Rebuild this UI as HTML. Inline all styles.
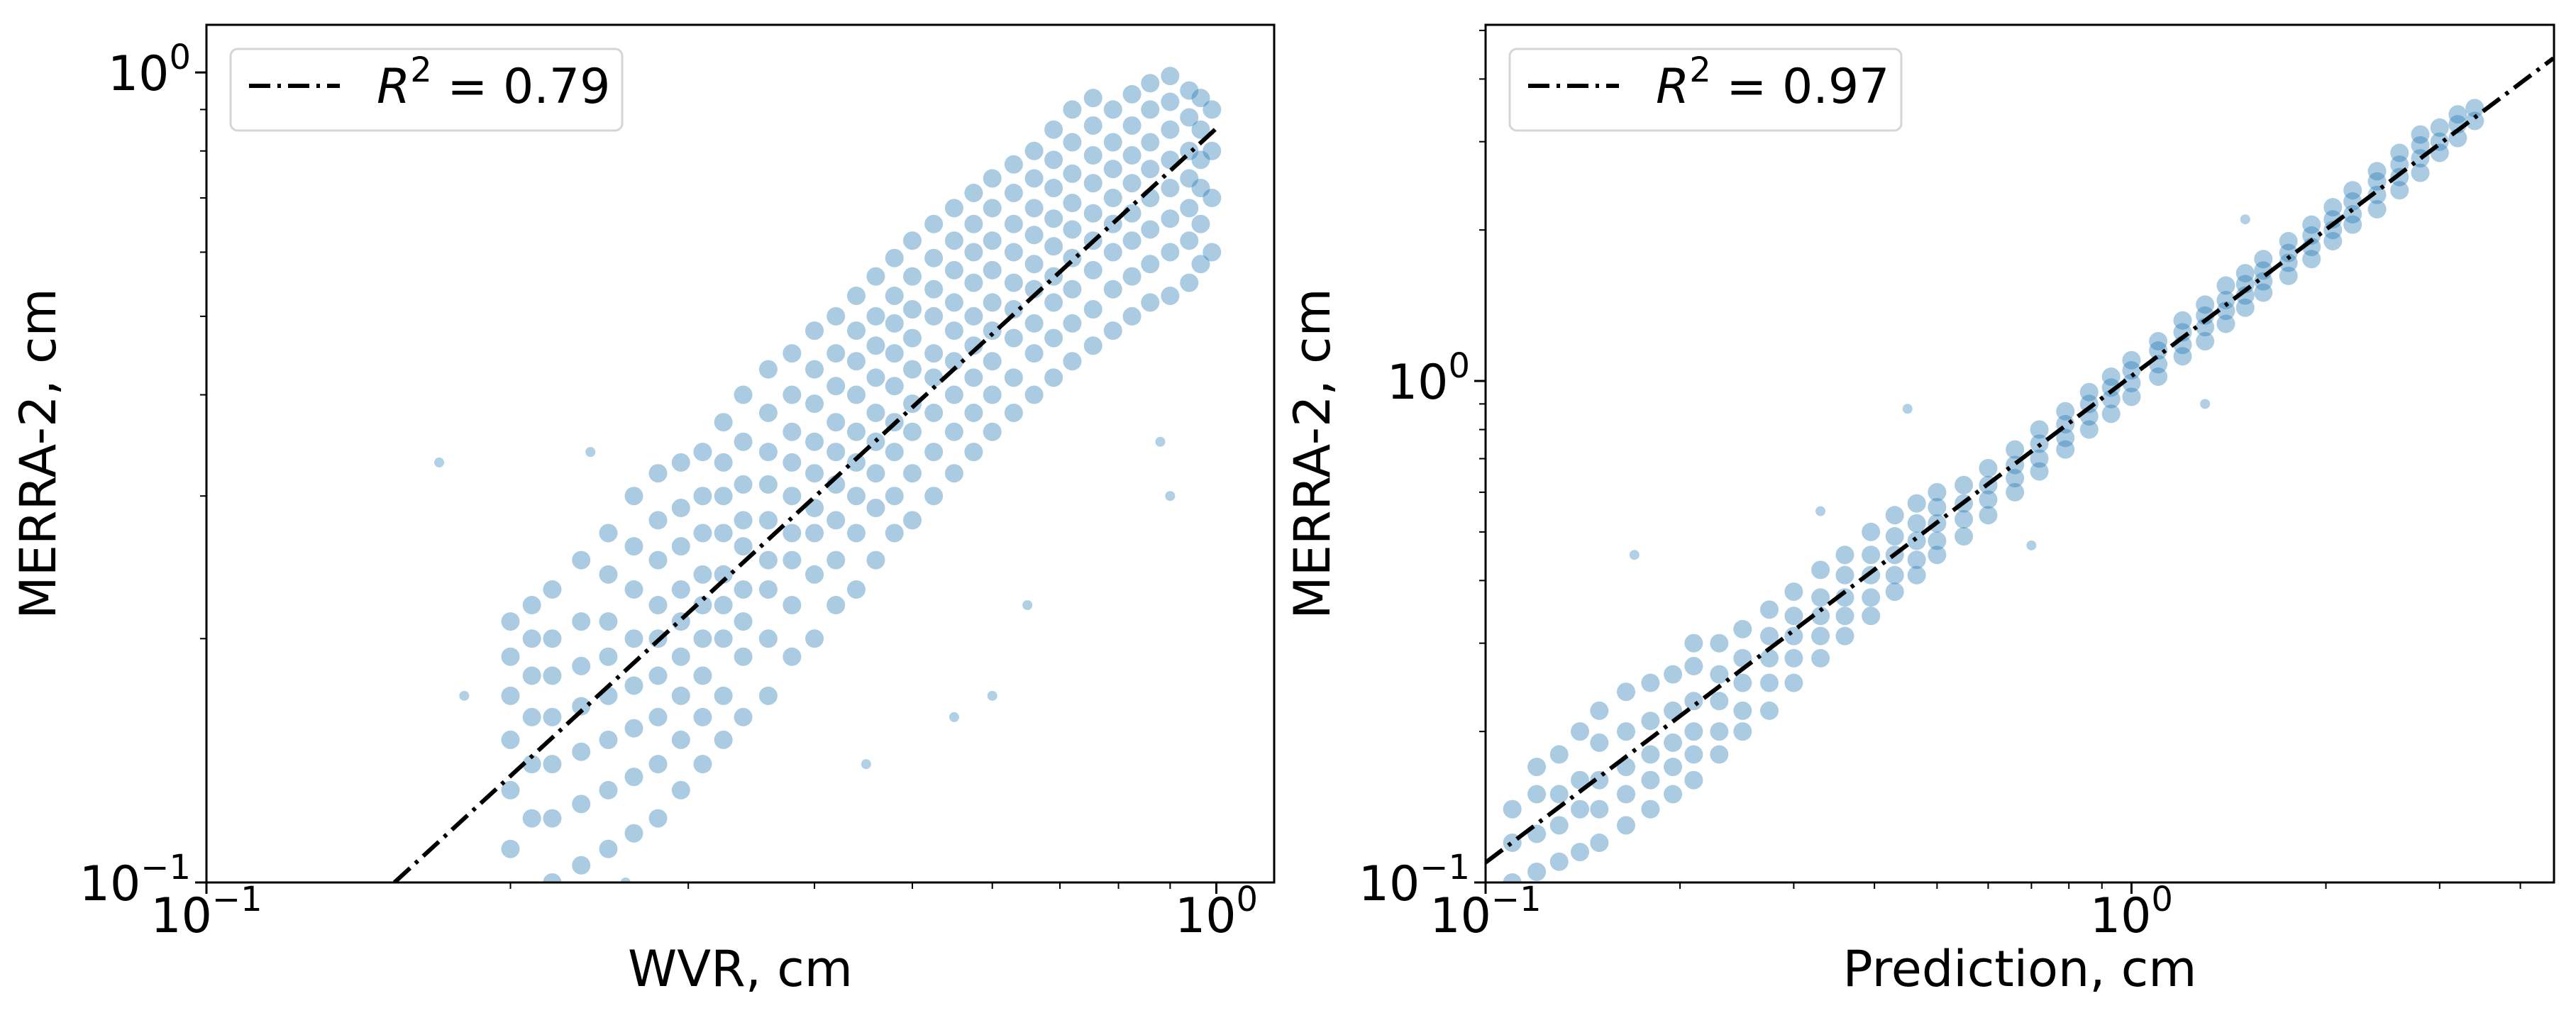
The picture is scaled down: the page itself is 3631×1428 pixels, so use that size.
<!DOCTYPE html>
<html><head><meta charset="utf-8">
<style>
html,body{margin:0;padding:0;background:#fff;}
svg{display:block;font-family:"DejaVu Sans","Liberation Sans",sans-serif;}
</style></head>
<body>
<svg id="fig" width="3631" height="1428" viewBox="0 0 3631 1428" xmlns="http://www.w3.org/2000/svg"></svg>
<script>
// ---- Left panel data (WVR vs MERRA-2), columns of points ----
const wvrCols = [0.2,0.22,0.25,0.28,0.31,0.34,0.38,0.42,0.46,0.5,0.55,0.6,0.66,0.72,0.79,0.86,0.94,0.99,
  0.21,0.235,0.265,0.295,0.325,0.36,0.40,0.44,0.48,0.525,0.575,0.63,0.69,0.755,0.825,0.9,0.965];
const merraLeftCols = [
 [0.11,0.13,0.15,0.17,0.19,0.21],
 [0.1,0.12,0.14,0.16,0.18,0.2,0.23],
 [0.11,0.13,0.15,0.17,0.19,0.21,0.24,0.27],
 [0.12,0.14,0.16,0.18,0.2,0.22,0.25,0.28,0.32],
 [0.14,0.16,0.18,0.2,0.22,0.24,0.27,0.3,0.34],
 [0.16,0.19,0.21,0.23,0.26,0.28,0.31,0.35,0.4],
 [0.19,0.22,0.25,0.27,0.3,0.33,0.36,0.4,0.45],
 [0.22,0.25,0.28,0.31,0.34,0.37,0.41,0.45,0.5],
 [0.25,0.29,0.32,0.35,0.38,0.42,0.46,0.5,0.56],
 [0.28,0.32,0.36,0.39,0.43,0.47,0.51,0.56,0.62],
 [0.32,0.36,0.4,0.44,0.48,0.52,0.57,0.62,0.68],
 [0.36,0.4,0.44,0.48,0.52,0.57,0.62,0.68,0.74],
 [0.4,0.45,0.49,0.54,0.58,0.63,0.68,0.74,0.8],
 [0.44,0.49,0.54,0.59,0.64,0.69,0.75,0.82,0.9],
 [0.48,0.54,0.6,0.65,0.7,0.76,0.82,0.9],
 [0.52,0.58,0.64,0.7,0.76,0.82,0.9,0.97],
 [0.55,0.62,0.68,0.74,0.8,0.88,0.95],
 [0.6,0.7,0.8,0.9],
 [0.12,0.14,0.16,0.18,0.2,0.22],
 [0.105,0.125,0.145,0.165,0.185,0.21,0.25],
 [0.115,0.135,0.155,0.175,0.2,0.23,0.26,0.3],
 [0.13,0.15,0.17,0.19,0.21,0.23,0.26,0.29,0.33],
 [0.15,0.17,0.2,0.22,0.24,0.27,0.3,0.33,0.37],
 [0.17,0.2,0.23,0.25,0.28,0.31,0.34,0.38,0.43],
 [0.2,0.24,0.27,0.29,0.32,0.35,0.39,0.43,0.48],
 [0.23,0.27,0.3,0.33,0.36,0.4,0.44,0.48,0.53],
 [0.27,0.3,0.34,0.37,0.41,0.45,0.49,0.53,0.59],
 [0.3,0.34,0.38,0.42,0.45,0.5,0.54,0.59,0.65],
 [0.34,0.38,0.42,0.46,0.5,0.55,0.6,0.65,0.71],
 [0.38,0.42,0.47,0.51,0.55,0.6,0.65,0.71,0.77],
 [0.42,0.47,0.52,0.56,0.61,0.66,0.72,0.78,0.85],
 [0.46,0.51,0.57,0.62,0.67,0.73,0.79,0.86,0.93],
 [0.5,0.56,0.62,0.67,0.73,0.79,0.86,0.94],
 [0.53,0.6,0.66,0.72,0.78,0.85,0.92,0.99],
 [0.58,0.65,0.72,0.78,0.85,0.93]
];
const leftOutX = [0.17,0.18,0.55,0.6,0.45,0.88,0.9,0.24,0.26,0.65];
const leftOutY = [0.33,0.17,0.16,0.17,0.14,0.35,0.3,0.34,0.1,0.22];
const leftFitX = [0.1535,1.0];
const leftFitY = [0.1,0.853];
const leftR2 = "0.79";

// ---- Right panel data (Prediction vs MERRA-2) ----
const predCols = [0.11,0.13,0.15,0.18,0.21,0.25,0.3,0.36,0.43,0.5,0.6,0.72,0.86,1.0,1.2,1.4,1.6,1.9,2.2,2.6,3.0,3.4,
  0.12,0.14,0.165,0.195,0.23,0.275,0.33,0.395,0.465,0.55,0.66,0.79,0.93,1.1,1.3,1.5,1.75,2.05,2.4,2.8,3.2];
const merraRightCols = [
 [0.1,0.12,0.14],
 [0.11,0.13,0.15,0.18],
 [0.12,0.14,0.16,0.19,0.22],
 [0.14,0.16,0.18,0.21,0.25],
 [0.16,0.18,0.2,0.23,0.27,0.3],
 [0.2,0.22,0.25,0.28,0.32],
 [0.25,0.28,0.31,0.34,0.38],
 [0.31,0.34,0.37,0.41,0.45],
 [0.38,0.41,0.45,0.49,0.54],
 [0.45,0.48,0.52,0.56,0.6],
 [0.54,0.58,0.62,0.67],
 [0.66,0.7,0.75,0.8],
 [0.8,0.85,0.9,0.95],
 [0.93,0.99,1.05,1.1],
 [1.12,1.18,1.25,1.32],
 [1.3,1.38,1.45,1.55],
 [1.5,1.58,1.66,1.75],
 [1.75,1.85,1.95,2.05],
 [2.05,2.15,2.28,2.4],
 [2.4,2.55,2.7,2.85],
 [2.85,3.0,3.2],
 [3.3,3.5],
 [0.105,0.125,0.15,0.17],
 [0.115,0.14,0.16,0.2],
 [0.13,0.15,0.17,0.2,0.24],
 [0.15,0.17,0.19,0.22,0.26],
 [0.18,0.2,0.23,0.26,0.3],
 [0.22,0.25,0.28,0.31,0.35],
 [0.28,0.31,0.34,0.37,0.42],
 [0.34,0.37,0.41,0.45,0.5],
 [0.41,0.44,0.48,0.52,0.57],
 [0.49,0.53,0.57,0.62],
 [0.6,0.64,0.68,0.73],
 [0.73,0.77,0.82,0.87],
 [0.86,0.92,0.97,1.02],
 [1.02,1.08,1.15,1.2],
 [1.2,1.28,1.35,1.42],
 [1.4,1.48,1.56,1.64],
 [1.62,1.72,1.8,1.9],
 [1.9,2.0,2.1,2.22],
 [2.2,2.35,2.5,2.62],
 [2.6,2.78,2.95,3.1],
 [3.05,3.25,3.4]
];
const rightOutX = [0.45,0.7,1.3,0.17,0.33,1.5];
const rightOutY = [0.88,0.47,0.9,0.45,0.55,2.1];
const rightFitX = [0.1,4.5];
const rightFitY = [0.1096,4.4];
const rightR2 = "0.97";

const NS = "http://www.w3.org/2000/svg";
const svg = document.getElementById('fig');
function mk(tag, attrs, parent){
  const e = document.createElementNS(NS, tag);
  for (const k in attrs) e.setAttribute(k, attrs[k]);
  (parent||svg).appendChild(e);
  return e;
}
function logScale(d0,d1,r0,r1){
  const a=Math.log10(d0), b=Math.log10(d1);
  return v => r0 + (Math.log10(v)-a)/(b-a)*(r1-r0);
}
function powLabel(parent, x, y, exp, anchor, name){
  const t = mk('text',{x:x,y:y,'font-size':68,'text-anchor':anchor,fill:'#000'},parent);
  
  
  const a = mk('tspan',{},t); a.textContent='10';
  const b = mk('tspan',{dy:-30,'font-size':48},t); b.textContent=exp;
  return t;
}

function panel(cfg){
  const g = mk('g',{});
  
  
  const X = logScale(0.1, cfg.xmax, cfg.L, cfg.R);
  const Y = logScale(0.1, cfg.ymax, cfg.B, cfg.T);
  const clipId = cfg.name+'-clip';
  const cp = mk('clipPath',{id:clipId},g);
  mk('rect',{x:cfg.L,y:cfg.T,width:cfg.R-cfg.L,height:cfg.B-cfg.T},cp);
  const pts = mk('g',{'clip-path':'url(#'+clipId+')'},g);
  
  
  cfg.cols.forEach((cx,i)=>{
    cfg.colY[i].forEach(vy=>{
      const c = mk('circle',{cx:X(cx),cy:Y(vy),r:13,fill:'#1f77b4','fill-opacity':0.38},pts);
      
      
    });
  });
  cfg.outX.forEach((ox,i)=>{
    const c = mk('circle',{cx:X(ox),cy:Y(cfg.outY[i]),r:7,fill:'#1f77b4','fill-opacity':0.35},pts);
    
    
  });
  const fl = mk('line',{x1:X(cfg.fitX[0]),y1:Y(cfg.fitY[0]),x2:X(cfg.fitX[1]),y2:Y(cfg.fitY[1]),
    stroke:'#000','stroke-width':6,'stroke-dasharray':'30 10 5 10','clip-path':'url(#'+clipId+')'},g);
  
  
  const decX=[0.1,1,10], decY=[0.1,1,10];
  for (let d of decX){ for (let m=1;m<10;m++){ const v=d*m; if (v<0.1-1e-9||v>cfg.xmax) continue;
    const px=X(v); const len = m===1?16:9;
    mk('line',{x1:px,y1:cfg.B,x2:px,y2:cfg.B+len,stroke:'#000','stroke-width':m===1?3:2},g);
  }}
  for (let d of decY){ for (let m=1;m<10;m++){ const v=d*m; if (v<0.1-1e-9||v>cfg.ymax) continue;
    const py=Y(v); const len = m===1?16:9;
    mk('line',{x1:cfg.L,y1:py,x2:cfg.L-len,y2:py,stroke:'#000','stroke-width':m===1?3:2},g);
  }}
  const fr = mk('rect',{x:cfg.L,y:cfg.T,width:cfg.R-cfg.L,height:cfg.B-cfg.T,fill:'none',stroke:'#000','stroke-width':3},g);
  
  
  powLabel(g, X(0.1), cfg.B+70, '\u22121', 'middle', 'x-tick-label');
  powLabel(g, X(1), cfg.B+70, '0', 'middle', 'x-tick-label');
  powLabel(g, cfg.L-22, Y(0.1)+25, '\u22121', 'end', 'y-tick-label');
  powLabel(g, cfg.L-22, Y(1)+25, '0', 'end', 'y-tick-label');
  const xl = mk('text',{x:(cfg.L+cfg.R)/2,y:1390,'font-size':70,'text-anchor':'middle'},g);
  xl.textContent = cfg.xlabel;
  
  
  const yc=(cfg.T+cfg.B)/2;
  const yl = mk('text',{x:cfg.ylx,y:yc,'font-size':70,'text-anchor':'middle',transform:'rotate(-90 '+cfg.ylx+' '+yc+')'},g);
  yl.textContent = 'MERRA-2, cm';
  
  
  const lg = mk('g',{},g);
  
  
  mk('rect',{x:cfg.L+34,y:69,width:552,height:115,rx:10,fill:'#fff','fill-opacity':0.8,stroke:'#d6d6d6','stroke-width':3},lg);
  mk('line',{x1:cfg.L+60,y1:121,x2:cfg.L+188,y2:121,stroke:'#000','stroke-width':6,'stroke-dasharray':'30 10 5 10'},lg);
  const lt = mk('text',{x:cfg.L+240,y:145,'font-size':68},lg);
  
  
  const r = mk('tspan',{'font-style':'italic'},lt); r.textContent='R';
  const s = mk('tspan',{dy:-30,'font-size':48},lt); s.textContent='2';
  const rest = mk('tspan',{dy:30},lt); rest.textContent=' = '+cfg.r2;
}

panel({name:'left-panel',L:291,R:1796,T:35,B:1244,xmax:1.1409,ymax:1.145,
  cols:wvrCols,colY:merraLeftCols,outX:leftOutX,outY:leftOutY,fitX:leftFitX,fitY:leftFitY,
  xlabel:'WVR, cm',ylx:78,r2:leftR2});
panel({name:'right-panel',L:2094,R:3600,T:35,B:1244,xmax:4.51,ymax:5.13,
  cols:predCols,colY:merraRightCols,outX:rightOutX,outY:rightOutY,fitX:rightFitX,fitY:rightFitY,
  xlabel:'Prediction, cm',ylx:1874,r2:rightR2});
</script>
</body></html>
